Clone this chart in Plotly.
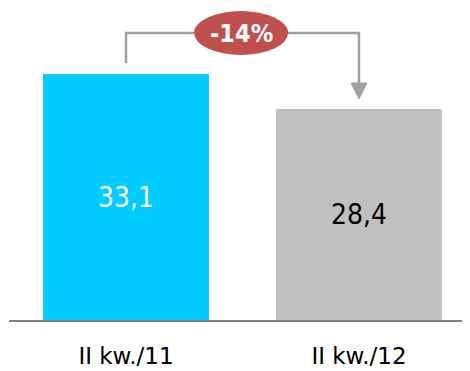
import plotly.graph_objects as go

categories = ["II kw./11", "II kw./12"]
values = [33.1, 28.4]
value_labels = ["33,1", "28,4"]
change_label = "-14%"
bar_colors = ["#00CCFF", "#C0C0C0"]
text_colors = ["white", "black"]

FONT = "DejaVu Sans"
FONT_C = "DejaVu Sans Condensed"
px_per_unit = 246 / 33.1
plot_h = 312
y_top = plot_h / px_per_unit

fig = go.Figure(go.Bar(
    x=[0, 1], y=values, width=0.712,
    marker=dict(color=bar_colors, line=dict(width=0)),
    text=value_labels, textposition="inside", insidetextanchor="middle",
    textangle=0, constraintext="none",
    textfont=dict(family=FONT_C, size=28, color=text_colors),
    hoverinfo="skip",
))

u = 1 / px_per_unit  # data units per pixel (y)
xu = 1 / 233  # data units per pixel (x)
top_y = max(values) + 41 * u
left_bottom = values[0] + 11 * u
right_tip = values[1] + 10 * u
line_col = "#A0A0A0"
shapes = [
    dict(type="path", xref="x", yref="y",
         path=f"M 0,{left_bottom} L 0,{top_y} L 1,{top_y} L 1,{right_tip + 16*u}",
         line=dict(color=line_col, width=2.5)),
    dict(type="path", xref="x", yref="y",
         path=f"M {1-8*xu},{right_tip + 16*u} L {1+8*xu},{right_tip + 16*u} L 1,{right_tip} Z",
         fillcolor=line_col, line=dict(color=line_col, width=1)),
    dict(type="circle", xref="x", yref="y",
         x0=0.494 - 47*xu, x1=0.494 + 47*xu, y0=top_y - 22*u, y1=top_y + 22*u,
         fillcolor="#C0504D", line=dict(width=0)),
]
fig.update_layout(
    width=462, height=363,
    margin=dict(l=1, r=0, t=0, b=363 - plot_h, autoexpand=False),
    paper_bgcolor="white", plot_bgcolor="white",
    showlegend=False,
    shapes=shapes,
    annotations=[dict(x=0.494, y=top_y, xref="x", yref="y", text=change_label,
                      showarrow=False,
                      font=dict(family=FONT_C, size=25, color="white", weight="bold"))],
    xaxis=dict(range=[-117/233, 1 + 111/233], tickvals=[0, 1], ticktext=categories,
               showline=True, linecolor="#808080", linewidth=2,
               showgrid=False, zeroline=False, ticks="", automargin=False,
               ticklabelstandoff=14,
               tickfont=dict(family=FONT, size=23, color="black")),
    yaxis=dict(range=[0, y_top], visible=False, showgrid=False, zeroline=False,
               automargin=False),
    font=dict(family=FONT),
)
fig.write_html("out.html")
